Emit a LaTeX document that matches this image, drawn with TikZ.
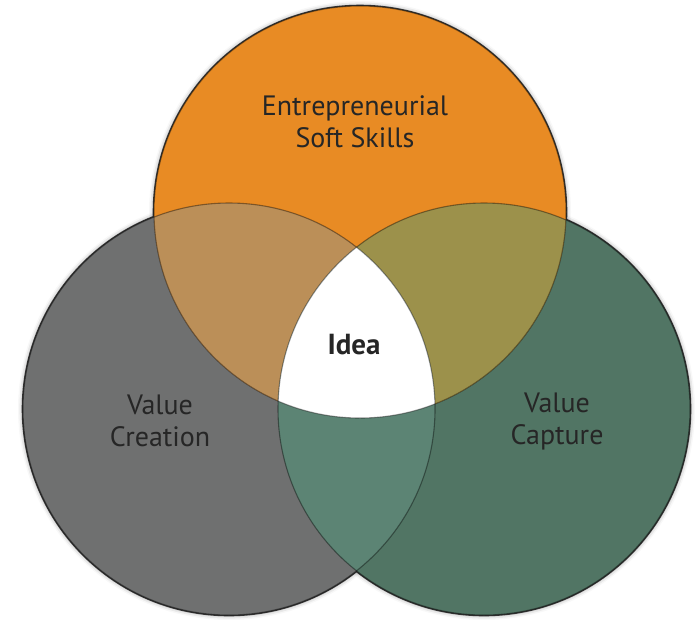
\documentclass[tikz,border=0pt]{standalone}
\usepackage{fontspec}
\setmainfont{PT Sans}
\usetikzlibrary{shadows.blur}

\definecolor{skills}{HTML}{E88B24}
\definecolor{creation}{HTML}{6F7070}
\definecolor{capture}{HTML}{517564}
\definecolor{skillscreation}{HTML}{BB8F58}
\definecolor{skillscapture}{HTML}{9C914B}
\definecolor{creationcapture}{HTML}{5C8474}
\definecolor{ink}{HTML}{262626}

\tikzset{
    setname/.style={text=ink, font=\fontsize{28}{32}\selectfont, align=center},
    rim/.style={draw=black!80, line width=2.6pt},
    seam/.style={draw=black, draw opacity=0.4, line width=1.1pt},
    halo/.style={blur shadow={shadow xshift=0pt, shadow yshift=0pt, shadow blur radius=5pt, shadow opacity=45}}
}

\begin{document}
\begin{tikzpicture}[x=1pt, y=-1pt]
    \useasboundingbox (0,0) rectangle (700,619);

    \coordinate (skills) at (360,212);
    \coordinate (creation) at (229,409);
    \coordinate (capture) at (484,409);

    % soft shadow and dark rims under everything
    \foreach \c in {skills,creation,capture}
        \path [halo] (\c) circle (206pt);
    \foreach \c in {skills,creation,capture}
        \draw [rim] (\c) circle (206pt);

    \fill [creation] (creation) circle (206pt);
    \fill [capture] (capture) circle (206pt);
    \fill [skills] (skills) circle (206pt);

    % pairwise overlaps
    \begin{scope}
        \clip (skills) circle (206pt);
        \fill [skillscreation] (creation) circle (206pt);
        \fill [skillscapture] (capture) circle (206pt);
    \end{scope}
    \begin{scope}
        \clip (creation) circle (206pt);
        \fill [creationcapture] (capture) circle (206pt);
    \end{scope}
    % the middle
    \begin{scope}
        \clip (skills) circle (206pt);
        \clip (creation) circle (206pt);
        \fill [white] (capture) circle (206pt);
    \end{scope}

    \foreach \c in {skills,creation,capture}
        \draw [seam] (\c) circle (206pt);

    \node [setname] (soft) at (355,122) {Entrepreneurial\\Soft Skills};
    \node [setname] (valcreate) at (160,421) {Value\\Creation};
    \node [setname] (valcapture) at (557,421) {Value\\Capture};
    \node [setname, font=\fontsize{29}{32}\selectfont\bfseries] (idea) at (354,345) {Idea};
\end{tikzpicture}
\end{document}
